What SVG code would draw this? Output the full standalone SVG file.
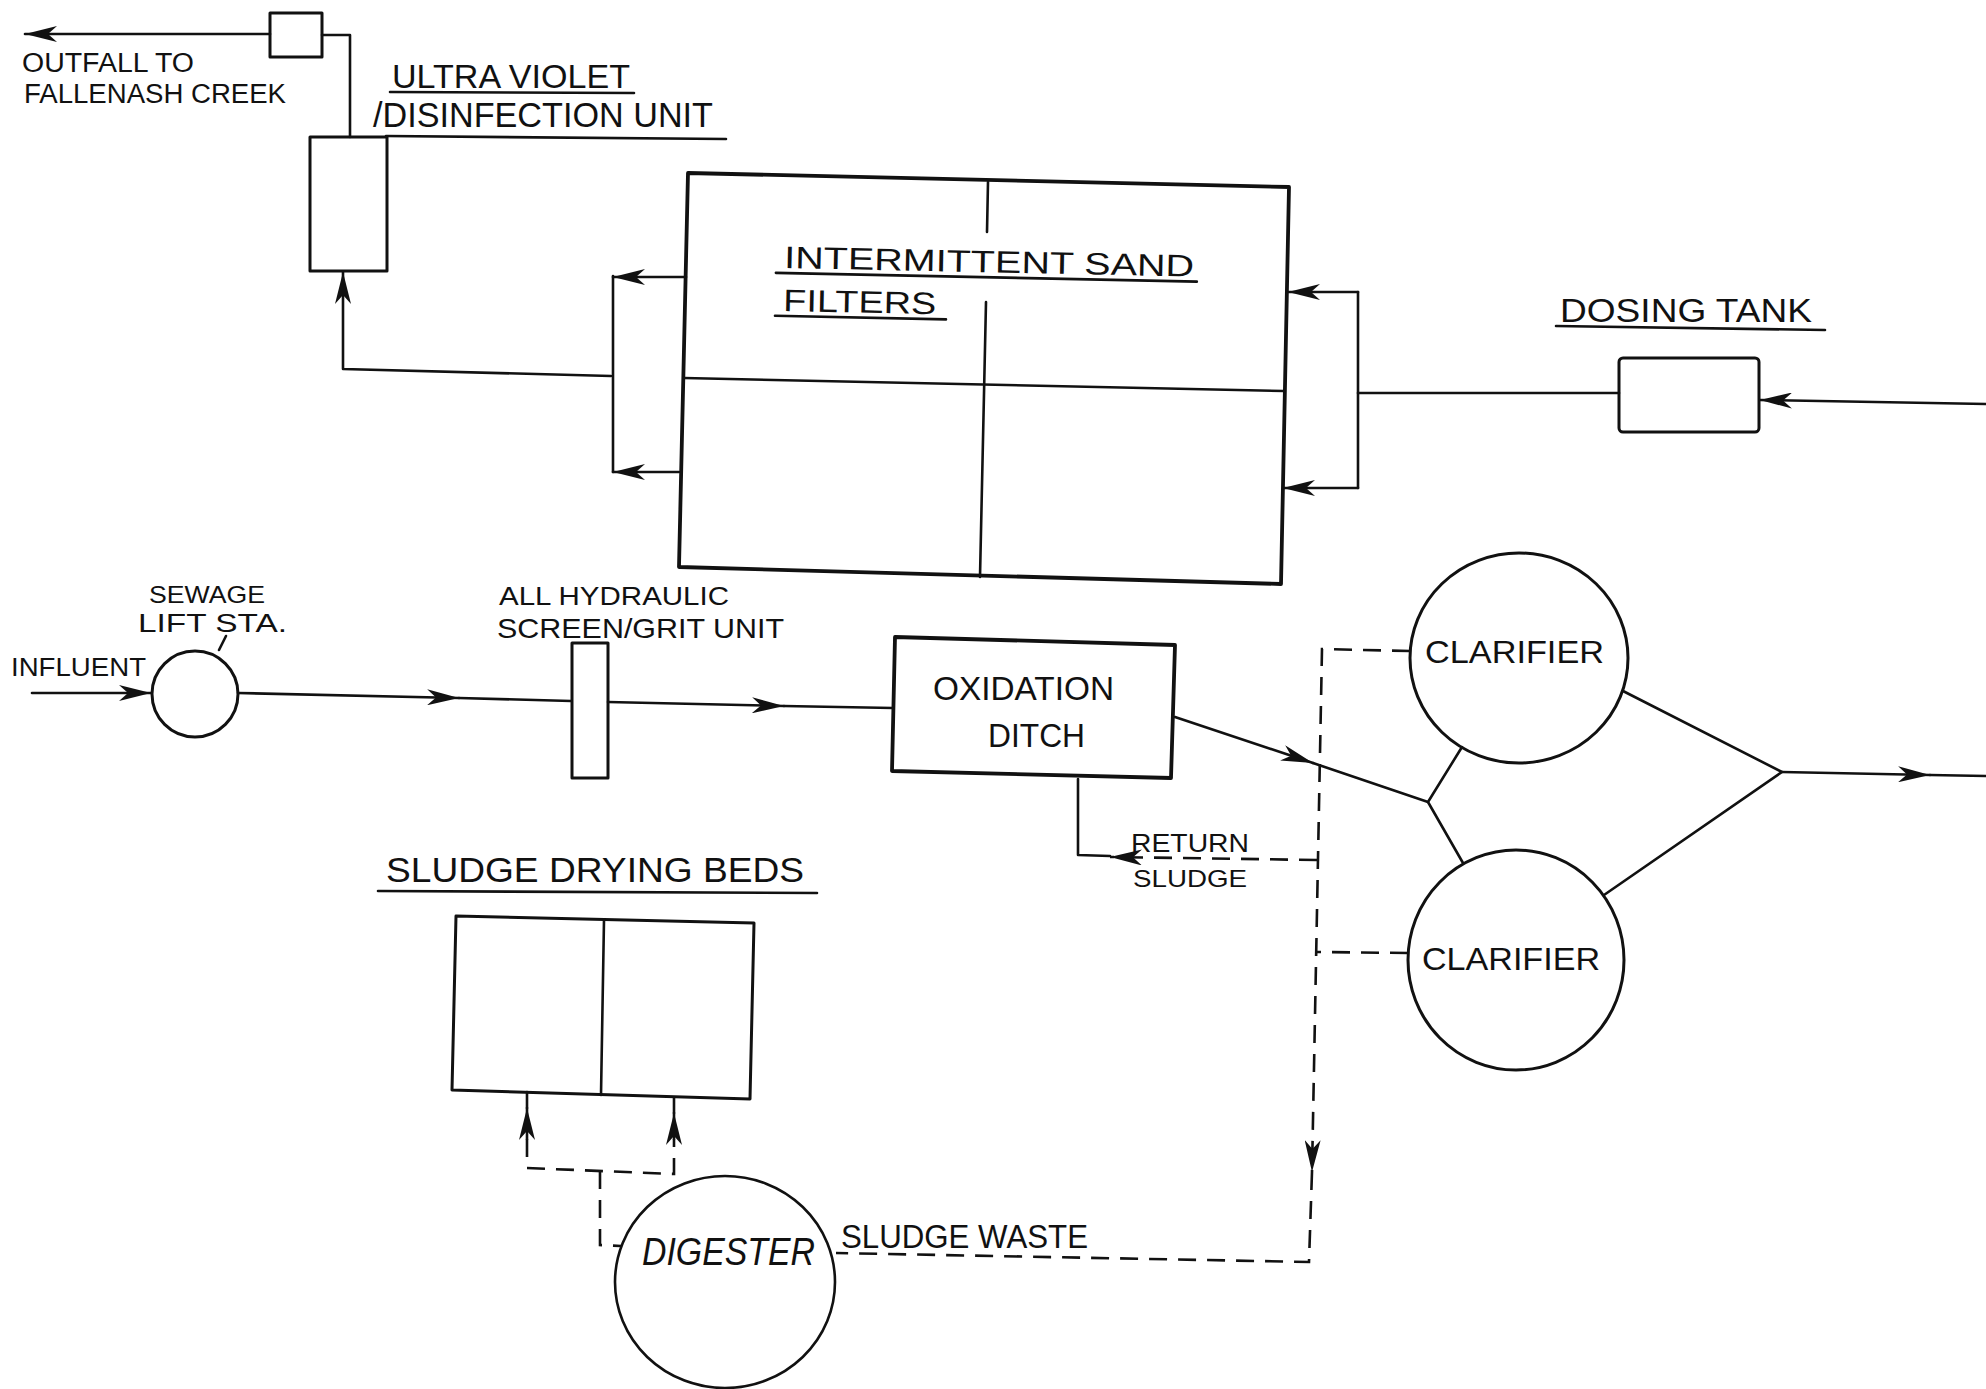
<svg xmlns="http://www.w3.org/2000/svg" width="1986" height="1389" viewBox="0 0 1986 1389">
<style>
  .ln{fill:none;stroke:#111;stroke-width:2.6;stroke-linecap:round;stroke-linejoin:round}
  .bx{fill:none;stroke:#111;stroke-width:3;stroke-linejoin:round}
  .hv{fill:none;stroke:#111;stroke-width:3.8;stroke-linejoin:round}
  .ds{fill:none;stroke:#111;stroke-width:2.6;stroke-dasharray:18 11}
  .t{font-family:"Liberation Sans",Arial,sans-serif;fill:#111}
  .hw{font-family:"Liberation Sans",Arial,sans-serif;font-style:italic;fill:#111}
</style>
<defs>
  <marker id="ar" viewBox="0 0 32 16" refX="32" refY="8" markerWidth="32" markerHeight="16" markerUnits="userSpaceOnUse" orient="auto">
    <path d="M0,0 L32,8 L0,16 L9,8 z" fill="#111" stroke="none"/>
  </marker>
</defs>
<rect width="1986" height="1389" fill="#fff"/>

<g id="connectors">
  <path class="ln" d="M270,34 L25,34" marker-end="url(#ar)"/>
  <path class="ln" d="M322,35 H350 V137"/>
  <path class="ln" d="M611,376 L343,369 L343,272" marker-end="url(#ar)"/>
  <path class="ln" d="M613,276 V472"/>
  <path class="ln" d="M686,277 L613,277" marker-end="url(#ar)"/>
  <path class="ln" d="M679,472 L613,472" marker-end="url(#ar)"/>
  <path class="ln" d="M1358,292 V488"/>
  <path class="ln" d="M1358,292 L1288,292" marker-end="url(#ar)"/>
  <path class="ln" d="M1358,488 L1283,488" marker-end="url(#ar)"/>
  <path class="ln" d="M1358,393 L1619,393"/>
  <path class="ln" d="M1986,404 L1760,400" marker-end="url(#ar)"/>
  <path class="ln" d="M32,693 L151,693" marker-end="url(#ar)"/>
  <path class="ln" d="M238,693 L459,698" marker-end="url(#ar)"/>
  <path class="ln" d="M459,698 L571,701"/>
  <path class="ln" d="M608,702 L784,706" marker-end="url(#ar)"/>
  <path class="ln" d="M784,706 L893,708"/>
  <path class="ln" d="M1175,717 L1313,763" marker-end="url(#ar)"/>
  <path class="ln" d="M1313,763 L1428,802"/>
  <path class="ln" d="M1462,747 L1428,802 L1463,863"/>
  <path class="ln" d="M1623,691 L1782,772 L1604,895"/>
  <path class="ln" d="M1782,772 L1930,775" marker-end="url(#ar)"/>
  <path class="ln" d="M1930,775 L1986,776"/>
  <path class="ln" d="M219,650 L226,636"/>
  <path class="ds" d="M1410,651 L1322,649 L1312,1172" marker-end="url(#ar)"/>
  <path class="ds" d="M1312,1172 L1309,1262 L836,1253"/>
  <path class="ds" d="M1317,860 L1110,857" marker-end="url(#ar)"/>
  <path class="ln" d="M1110,856 L1078,855 L1078,779"/>
  <path class="ds" d="M1408,953 L1316,952"/>
  <path class="ds" d="M527,1139 L527,1168 L674,1174 L674,1139"/>
  <path class="ds" d="M600,1171 L600,1245 L621,1246"/>
  <path class="ln" d="M527,1139 L527,1108" marker-end="url(#ar)"/>
  <path class="ln" d="M527,1108 L527,1092"/>
  <path class="ln" d="M674,1139 L674,1113" marker-end="url(#ar)"/>
  <path class="ln" d="M674,1113 L674,1098"/>
</g>

<g id="outfall">
  <rect class="bx" x="270" y="13" width="52" height="44"/>
  <text class="t" x="22" y="72" font-size="27" textLength="172" lengthAdjust="spacingAndGlyphs">OUTFALL TO</text>
  <text class="t" x="24" y="103" font-size="27" textLength="262" lengthAdjust="spacingAndGlyphs">FALLENASH CREEK</text>
</g>

<g id="uv-unit">
  <rect class="bx" x="310" y="137" width="77" height="134"/>
  <text class="t" x="392" y="88" font-size="34" textLength="238" lengthAdjust="spacingAndGlyphs">ULTRA VIOLET</text>
  <path class="ln" d="M390,92 L634,93"/>
  <text class="t" x="373" y="127" font-size="35" textLength="340" lengthAdjust="spacingAndGlyphs">/DISINFECTION UNIT</text>
  <path class="ln" d="M386,136 L726,139"/>
</g>

<g id="sand-filters">
  <path class="hv" d="M688,173 L1289,187 L1281,584 L679,567 Z"/>
  <path class="ln" d="M988,182 L987,232 M986,302 L980,577"/>
  <path class="ln" d="M684,378 L1284,391"/>
  <g transform="rotate(1.2 784 268)">
    <text class="t" x="784" y="268" font-size="31" textLength="410" lengthAdjust="spacingAndGlyphs">INTERMITTENT SAND</text>
    <path class="ln" d="M776,273 L1197,273"/>
    <text class="t" x="784" y="311" font-size="31" textLength="153" lengthAdjust="spacingAndGlyphs">FILTERS</text>
    <path class="ln" d="M776,316 L947,316"/>
  </g>
</g>

<g id="dosing-tank">
  <rect class="bx" x="1619" y="358" width="140" height="74" rx="4"/>
  <text class="t" x="1560" y="322" font-size="33" textLength="252" lengthAdjust="spacingAndGlyphs">DOSING TANK</text>
  <path class="ln" d="M1556,326 L1825,330"/>
</g>

<g id="influent-label">
  <text class="t" x="11" y="676" font-size="26" textLength="135" lengthAdjust="spacingAndGlyphs">INFLUENT</text>
</g>

<g id="lift-station">
  <ellipse class="bx" cx="195" cy="694" rx="43" ry="43"/>
  <text class="t" x="149" y="603" font-size="24" textLength="116" lengthAdjust="spacingAndGlyphs">SEWAGE</text>
  <text class="t" x="138" y="632" font-size="26" textLength="149" lengthAdjust="spacingAndGlyphs">LIFT STA.</text>
</g>

<g id="screen-grit">
  <rect class="bx" x="572" y="643" width="36" height="135"/>
  <text class="t" x="499" y="605" font-size="25" textLength="230" lengthAdjust="spacingAndGlyphs">ALL HYDRAULIC</text>
  <text class="t" x="497" y="638" font-size="28" textLength="287" lengthAdjust="spacingAndGlyphs">SCREEN/GRIT UNIT</text>
</g>

<g id="oxidation-ditch">
  <path class="hv" d="M895,637 L1175,645 L1171,778 L892,771 Z"/>
  <text class="t" x="933" y="700" font-size="34" textLength="181" lengthAdjust="spacingAndGlyphs">OXIDATION</text>
  <text class="t" x="988" y="747" font-size="33" textLength="97" lengthAdjust="spacingAndGlyphs">DITCH</text>
</g>

<g id="return-sludge-label">
  <text class="t" x="1131" y="852" font-size="26" textLength="118" lengthAdjust="spacingAndGlyphs">RETURN</text>
  <text class="t" x="1133" y="887" font-size="24" textLength="114" lengthAdjust="spacingAndGlyphs">SLUDGE</text>
</g>

<g id="clarifier-1">
  <ellipse class="bx" cx="1519" cy="658" rx="109" ry="105"/>
  <text class="t" x="1425" y="663" font-size="32" textLength="179" lengthAdjust="spacingAndGlyphs">CLARIFIER</text>
</g>

<g id="clarifier-2">
  <ellipse class="bx" cx="1516" cy="960" rx="108" ry="110"/>
  <text class="t" x="1422" y="970" font-size="32" textLength="178" lengthAdjust="spacingAndGlyphs">CLARIFIER</text>
</g>

<g id="drying-beds">
  <path class="bx" d="M456,916 L754,923 L750,1099 L452,1090 Z"/>
  <path class="ln" d="M604,920 L601,1095"/>
  <text class="t" x="386" y="882" font-size="35" textLength="418" lengthAdjust="spacingAndGlyphs">SLUDGE DRYING BEDS</text>
  <path class="ln" d="M378,891 L817,893"/>
</g>

<g id="digester">
  <ellipse class="ln" cx="725" cy="1282" rx="110" ry="106"/>
  <text class="hw" x="642" y="1265" font-size="38" textLength="173" lengthAdjust="spacingAndGlyphs">DIGESTER</text>
</g>

<g id="sludge-waste-label">
  <text class="t" x="841" y="1248" font-size="34" textLength="247" lengthAdjust="spacingAndGlyphs">SLUDGE WASTE</text>
</g>
</svg>
